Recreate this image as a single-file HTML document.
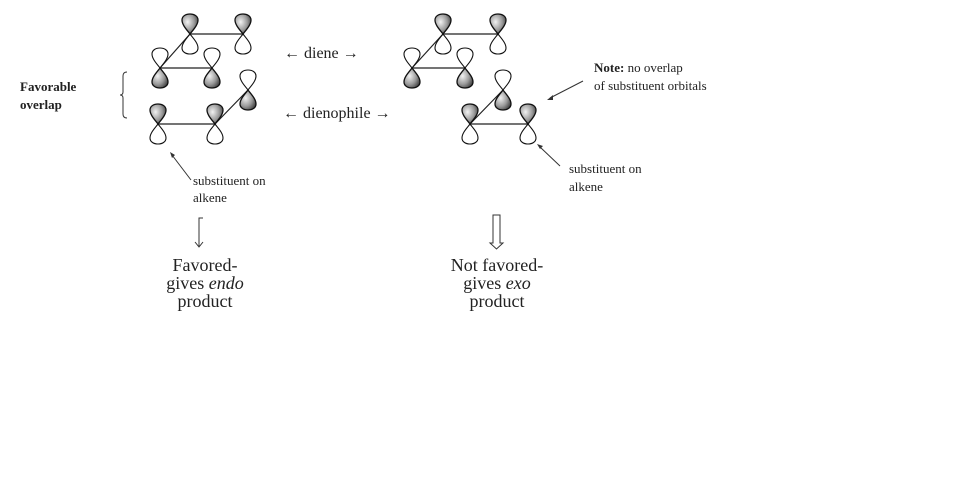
<!DOCTYPE html>
<html><head><meta charset="utf-8"><style>
html,body{margin:0;padding:0;background:#fff;}
svg{display:block;}
text{font-family:"Liberation Serif",serif;fill:#222;}
</style></head><body>
<svg width="966" height="482" viewBox="0 0 966 482" xmlns="http://www.w3.org/2000/svg">
<defs>
<radialGradient id="g" cx="0.35" cy="0.4" r="0.7">
<stop offset="0" stop-color="#f2f2f2"/><stop offset="0.6" stop-color="#9a9a9a"/><stop offset="1" stop-color="#444"/>
</radialGradient>
<path id="up" d="M0 0 C-3 -4 -8 -9 -8 -14 C-8 -22 8 -22 8 -14 C8 -9 3 -4 0 0 Z"/>
<path id="dn" d="M0 0 C-3 4 -8 9 -8 14 C-8 22 8 22 8 14 C8 9 3 4 0 0 Z"/>
<g id="su"><use href="#up" fill="url(#g)" stroke="#111" stroke-width="1.3"/><use href="#dn" fill="#fff" stroke="#111" stroke-width="1.1"/></g>
<g id="sd"><use href="#up" fill="#fff" stroke="#111" stroke-width="1.1"/><use href="#dn" fill="url(#g)" stroke="#111" stroke-width="1.3"/></g>
</defs>
<g stroke="#222" stroke-width="1.2">
<line x1="190" y1="34" x2="243" y2="34"/><line x1="190" y1="34" x2="160" y2="68"/><line x1="160" y1="68" x2="212" y2="68"/>
<line x1="158" y1="124" x2="215" y2="124"/><line x1="215" y1="124" x2="248" y2="90"/>
<line x1="443" y1="34" x2="498" y2="34"/><line x1="443" y1="34" x2="412" y2="68"/><line x1="412" y1="68" x2="465" y2="68"/>
<line x1="470" y1="124" x2="528" y2="124"/><line x1="470" y1="124" x2="503" y2="90"/>
</g>
<use href="#su" x="190" y="34"/><use href="#su" x="243" y="34"/>
<use href="#sd" x="160" y="68"/><use href="#sd" x="212" y="68"/><use href="#sd" x="248" y="90"/>
<use href="#su" x="158" y="124"/><use href="#su" x="215" y="124"/>
<use href="#su" x="443" y="34"/><use href="#su" x="498" y="34"/>
<use href="#sd" x="412" y="68"/><use href="#sd" x="465" y="68"/><use href="#sd" x="503" y="90"/>
<use href="#su" x="470" y="124"/><use href="#su" x="528" y="124"/>

<text x="20" y="91" font-size="13" font-weight="bold">Favorable</text>
<text x="20" y="109" font-size="13" font-weight="bold">overlap</text>
<path d="M127 72 Q123 72 123 76 L123 92 Q123 95 120 95 Q123 95 123 98 L123 114 Q123 118 127 118" fill="none" stroke="#333" stroke-width="1"/>

<text x="284" y="58" font-size="16">← diene →</text>
<text x="283" y="118" font-size="16">← dienophile →</text>

<text x="193" y="185" font-size="13">substituent on</text>
<text x="193" y="202" font-size="13">alkene</text>
<line x1="191" y1="180" x2="172" y2="155" stroke="#333" stroke-width="1"/>
<path d="M170 152 L175 155 L172 158 Z" fill="#333"/>

<text x="594" y="72" font-size="13"><tspan font-weight="bold">Note:</tspan>  no overlap</text>
<text x="594" y="90" font-size="13">of substituent orbitals</text>
<line x1="583" y1="81" x2="550" y2="98" stroke="#333" stroke-width="1"/>
<path d="M547 100 L553 95 L553 100 Z" fill="#333"/>

<text x="569" y="173" font-size="13">substituent on</text>
<text x="569" y="191" font-size="13">alkene</text>
<line x1="560" y1="166" x2="540" y2="147" stroke="#333" stroke-width="1"/>
<path d="M537 144 L543 146 L540 149 Z" fill="#333"/>

<path d="M203 218 L199 218 L199 247 M195 242 L199 247 L203 242" fill="none" stroke="#333" stroke-width="1"/>
<path d="M493 215 L500 215 L500 243 L503 243 L496.5 249 L490 243 L493 243 Z" fill="none" stroke="#333" stroke-width="1"/>

<g font-size="18" text-anchor="middle">
<text x="205" y="271">Favored-</text>
<text x="205" y="289">gives <tspan font-style="italic">endo</tspan></text>
<text x="205" y="307">product</text>
<text x="497" y="271">Not favored-</text>
<text x="497" y="289">gives <tspan font-style="italic">exo</tspan></text>
<text x="497" y="307">product</text>
</g>
</svg>
</body></html>
